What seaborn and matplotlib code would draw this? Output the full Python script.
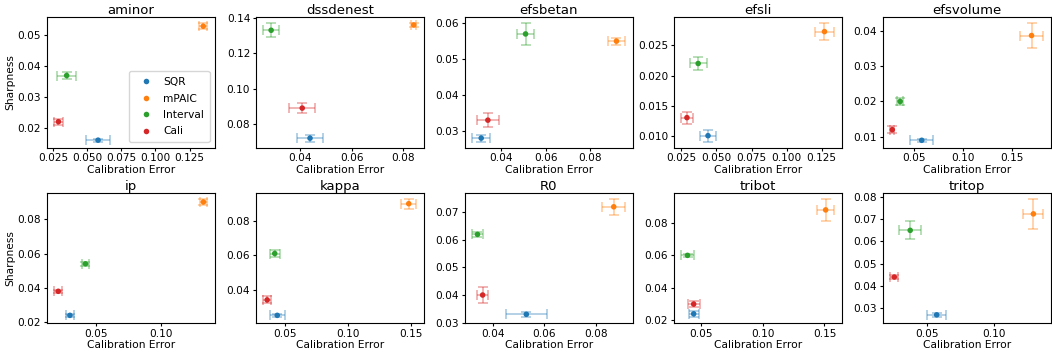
import numpy as np
import pandas as pd
import matplotlib
matplotlib.use("Agg")
import matplotlib.pyplot as plt
import seaborn as sns

datasets = ["aminor", "dssdenest", "efsbetan", "efsli", "efsvolume",
            "ip", "kappa", "R0", "tribot", "tritop"]
methods = ["SQR", "mPAIC", "Interval", "Cali"]
colors = ["#1f77b4", "#ff7f0e", "#2ca02c", "#d62728"]

# calibration error (x) per dataset, order: SQR, mPAIC, Interval, Cali
cal_err = [
    [0.058, 0.135, 0.035, 0.029],
    [0.044, 0.084, 0.029, 0.041],
    [0.031, 0.092, 0.051, 0.034],
    [0.044, 0.127, 0.037, 0.029],
    [0.058, 0.170, 0.036, 0.028],
    [0.030, 0.133, 0.042, 0.021],
    [0.044, 0.148, 0.042, 0.036],
    [0.053, 0.087, 0.034, 0.036],
    [0.044, 0.151, 0.039, 0.044],
    [0.057, 0.130, 0.037, 0.025],
]
cal_err_sd = [
    [0.009, 0.003, 0.007, 0.003],
    [0.005, 0.001, 0.003, 0.005],
    [0.004, 0.004, 0.004, 0.005],
    [0.006, 0.007, 0.006, 0.004],
    [0.012, 0.012, 0.003, 0.002],
    [0.003, 0.003, 0.003, 0.003],
    [0.006, 0.006, 0.004, 0.003],
    [0.008, 0.0045, 0.002, 0.002],
    [0.004, 0.007, 0.005, 0.005],
    [0.007, 0.0075, 0.0085, 0.003],
]
sharpness = [
    [0.016, 0.053, 0.037, 0.022],
    [0.072, 0.136, 0.133, 0.089],
    [0.028, 0.055, 0.057, 0.033],
    [0.010, 0.0273, 0.022, 0.013],
    [0.009, 0.0387, 0.020, 0.012],
    [0.024, 0.090, 0.054, 0.038],
    [0.025, 0.090, 0.061, 0.034],
    [0.033, 0.072, 0.062, 0.040],
    [0.024, 0.088, 0.060, 0.030],
    [0.027, 0.0724, 0.065, 0.044],
]
sharpness_sd = [
    [0.0005, 0.001, 0.001, 0.001],
    [0.002, 0.001, 0.004, 0.003],
    [0.001, 0.001, 0.003, 0.002],
    [0.001, 0.0014, 0.001, 0.001],
    [0.0004, 0.0035, 0.001, 0.001],
    [0.001, 0.002, 0.001, 0.001],
    [0.001, 0.003, 0.002, 0.002],
    [0.001, 0.003, 0.001, 0.003],
    [0.002, 0.007, 0.001, 0.002],
    [0.001, 0.0069, 0.004, 0.001],
]

rows = []
for d, ds in enumerate(datasets):
    for m, meth in enumerate(methods):
        rows.append(dict(dataset=ds, method=meth,
                         ce=cal_err[d][m], ce_sd=cal_err_sd[d][m],
                         sh=sharpness[d][m], sh_sd=sharpness_sd[d][m]))
df = pd.DataFrame(rows)

plt.rcParams.update({"font.size": 7.7, "axes.titlesize": 9.5,
                     "axes.labelsize": 7.7, "xtick.labelsize": 7.6,
                     "ytick.labelsize": 7.6})

fig, axes = plt.subplots(2, 5, figsize=(10.52, 3.52), dpi=100)
palette = dict(zip(methods, colors))
for i, (ax, ds) in enumerate(zip(axes.flat, datasets)):
    sub = df[df.dataset == ds]
    for _, r in sub.iterrows():
        ax.errorbar(r.ce, r.sh, xerr=r.ce_sd, yerr=r.sh_sd, fmt="none",
                    ecolor=palette[r.method], alpha=0.4, capsize=3.8,
                    elinewidth=1.2, capthick=1.2)
    sns.scatterplot(data=sub, x="ce", y="sh", hue="method", hue_order=methods,
                    palette=palette, s=16, edgecolor="none", ax=ax,
                    legend=(i == 0), zorder=3)
    ax.set_title(ds, pad=2)
    ax.set_xlabel("Calibration Error", labelpad=1)
    ax.set_ylabel("Sharpness" if i % 5 == 0 else "", labelpad=2)
    ax.tick_params(length=2.5, pad=1.5)
    if i == 0:
        leg = ax.legend(loc="lower right", fontsize=7.7, title=None,
                        handletextpad=0.6, borderpad=0.55, labelspacing=0.6)

fig.subplots_adjust(left=0.0444, right=0.999, top=0.951, bottom=0.0824,
                    wspace=0.242, hspace=0.345)
fig.savefig("out.png", dpi=100)
